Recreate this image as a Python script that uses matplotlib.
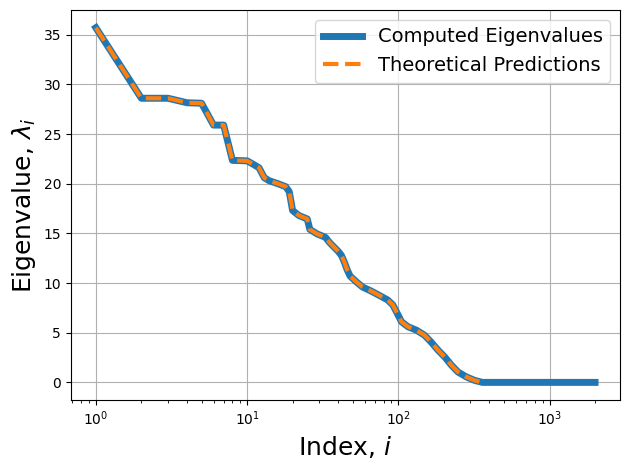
import numpy as np
import matplotlib
matplotlib.use("Agg")
import matplotlib.pyplot as plt

# Eigenvalue spectrum (index, value)
idx = [1, 2, 3, 4, 5, 6, 7, 8, 10, 11, 12, 13, 14, 16, 18, 19, 20, 22, 25, 26,
       29, 33, 35, 40, 42, 44, 46, 48, 53, 58, 66, 75, 85, 92, 98, 105, 116,
       132, 149, 165, 183, 203, 224, 248, 282, 320, 360]
vals = [35.7, 28.6, 28.6, 28.15, 28.1, 25.9, 25.9, 22.35, 22.3, 21.95, 21.6,
        20.6, 20.3, 20.0, 19.7, 19.2, 17.3, 16.8, 16.45, 15.4, 14.95, 14.6,
        14.1, 13.2, 12.8, 12.1, 11.3, 10.7, 10.1, 9.6, 9.2, 8.75, 8.3, 7.8,
        7.0, 6.1, 5.6, 5.25, 4.75, 4.05, 3.25, 2.55, 1.75, 1.05, 0.55, 0.2, 0.0]

# computed spectrum continues at zero up to the last index
tail_idx = [2000]
tail_vals = [0.0]

computed_idx = idx + tail_idx
computed_vals = vals + tail_vals
theory_idx = idx
theory_vals = vals

fig, ax = plt.subplots(figsize=(6.4, 4.8), dpi=100)
ax.semilogx(computed_idx, computed_vals, color='tab:blue', lw=5,
            label='Computed Eigenvalues')
ax.semilogx(theory_idx, theory_vals, color='tab:orange', lw=3, ls='--',
            label='Theoretical Predictions')
ax.set_xlabel('Index, $i$', fontsize=18)
ax.set_ylabel('Eigenvalue, $\\lambda_i$', fontsize=18)
ax.grid(True)
ax.legend(fontsize=14, loc='upper right')
plt.tight_layout()
plt.savefig('out.png', bbox_inches='tight')
plt.close()
